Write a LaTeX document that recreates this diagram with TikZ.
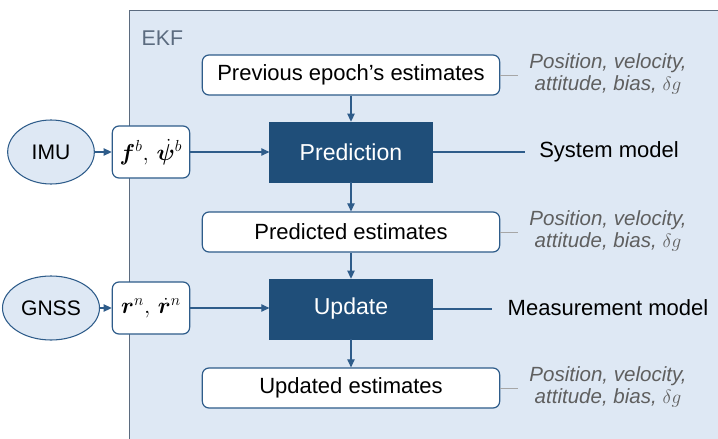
\documentclass[tikz,border=0pt]{standalone}
\usepackage{amsmath, amssymb}
\usepackage{bm}
\usepackage{fontspec}
\setmainfont{Liberation Sans}
\usetikzlibrary{arrows.meta, shapes.geometric, positioning}
\definecolor{ekfbg}{HTML}{DEE8F4}
\definecolor{ekfline}{HTML}{5B6B7F}
\definecolor{stepblue}{HTML}{1F4E79}
\definecolor{edgeblue}{HTML}{2E5C8A}
\definecolor{notegray}{HTML}{5F5F5F}
\tikzset{
    estbox/.style={draw=edgeblue, fill=white, line width=0.9pt, rounded corners=5pt,
        minimum width=223pt, minimum height=30pt, font=\fontsize{16.5}{19}\selectfont},
    stepbox/.style={draw=stepblue, fill=stepblue, text=white,
        minimum width=122pt, minimum height=45pt, font=\fontsize{17.3}{20}\selectfont},
    sensor/.style={ellipse, draw=edgeblue, fill=ekfbg, line width=0.8pt,
        minimum width=65pt, minimum height=48pt, font=\fontsize{15.8}{18}\selectfont},
    inbox/.style={draw=edgeblue, fill=white, line width=0.9pt, rounded corners=5pt,
        minimum width=58pt, minimum height=39pt, inner sep=1pt, font=\fontsize{17}{20}\selectfont},
    note/.style={text=notegray, align=center, font=\itshape\fontsize{15.4}{17}\selectfont},
    model/.style={font=\fontsize{16.5}{19}\selectfont},
    flow/.style={draw=edgeblue, line width=0.8pt, -{Triangle[length=6pt, width=5.5pt]}},
    tie/.style={draw=edgeblue, line width=0.8pt},
    notetie/.style={draw=gray!70, line width=0.6pt}
}

\begin{document}
\begin{tikzpicture}[x=0.75pt, y=-0.75pt]
    \useasboundingbox (0,0) rectangle (718,439);

    % EKF container
    \draw[ekfline, fill=ekfbg, line width=0.7pt] (129,10) rectangle (724,445);
    \node[text=ekfline, font=\fontsize{16}{19}\selectfont, anchor=west] (ekf) at (137,38) {EKF};

    % main chain
    \node[estbox] (prev) at (351,75) {Previous epoch’s estimates};
    \node[stepbox] (pred) at (351,152) {Prediction};
    \node[estbox] (predest) at (351,232) {Predicted estimates};
    \node[stepbox] (upd) at (351,309) {Update};
    \node[estbox] (updest) at (351,388) {Updated estimates};

    % sensors and their data
    \node[sensor] (imu) at (51,152) {IMU};
    \node[inbox] (imudata) at (151,152) {$\bm{f}^b,\,\dot{\bm{\psi}}^b$};
    \node[sensor] (gnss) at (51,308) {GNSS};
    \node[inbox] (gnssdata) at (151,308) {$\bm{r}^n,\,\dot{\bm{r}}^n$};

    % models
    \node[model] (sysmod) at (609,152) {System model};
    \node[model] (measmod) at (608,308) {Measurement model};
    \coordinate (sysend) at (525,152);
    \coordinate (measend) at (492,309);

    % state notes
    \node[note] (prevnote) at (608,74) {Position, velocity,\\attitude, bias, $\delta g$};
    \node[note] (prednote) at (608,231) {Position, velocity,\\attitude, bias, $\delta g$};
    \node[note] (updnote) at (608,387) {Position, velocity,\\attitude, bias, $\delta g$};

    \draw[flow] (prev) -- (pred);
    \draw[flow] (pred) -- (predest);
    \draw[flow] (predest) -- (upd);
    \draw[flow] (upd) -- (updest);
    \draw[flow] (imu) -- (imudata);
    \draw[flow] (imudata) -- (pred);
    \draw[flow] (gnss) -- (gnssdata);
    \draw[flow] (gnssdata) -- (gnssdata -| upd.west);

    \draw[tie] (pred) -- (sysend);
    \draw[tie] (upd.east |- measend) -- (measend);
    \draw[notetie] (prev.east) -- ++(18,0);
    \draw[notetie] (predest.east) -- ++(18,0);
    \draw[notetie] (updest.east) -- ++(18,0);
\end{tikzpicture}
\end{document}
